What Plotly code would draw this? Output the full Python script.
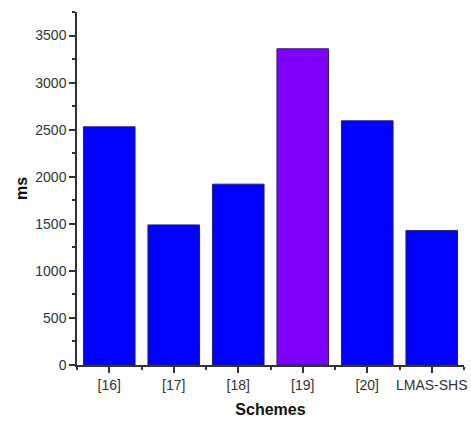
import plotly.graph_objects as go

schemes = ["[16]", "[17]", "[18]", "[19]", "[20]", "LMAS-SHS"]
ms_values = [2530, 1488, 1921, 3359, 2594, 1428]
bar_colors = ["#0000FF", "#0000FF", "#0000FF", "#7F00FF", "#0000FF", "#0000FF"]

positions = list(range(len(schemes)))

fig = go.Figure(go.Bar(
    x=positions, y=ms_values, width=0.8,
    marker=dict(color=bar_colors, line=dict(color="#222266", width=1)),
))

font = "Liberation Sans, Arial, sans-serif"
fig.update_layout(
    width=471, height=421,
    margin=dict(l=77, r=4, t=12, b=56),
    plot_bgcolor="white", paper_bgcolor="white",
    showlegend=False,
    font=dict(family=font, size=14, color="#333333"),
)
fig.update_xaxes(
    range=[-0.5, 5.5], tickvals=positions, ticktext=schemes,
    showline=True, linecolor="#333333", linewidth=1.5,
    ticks="outside", ticklen=6, tickwidth=1.5, tickcolor="#333333",
    minor=dict(dtick=0.5, tick0=-0.5, ticks="outside", ticklen=3, tickcolor="#333333", tickwidth=1.5),
    showgrid=False, zeroline=False,
    title=dict(text="<b>Schemes</b>", font=dict(size=16, color="#111111"), standoff=12),
)
fig.update_yaxes(
    range=[0, 3750], dtick=500, tick0=0,
    showline=True, linecolor="#333333", linewidth=1.5,
    ticks="outside", ticklen=6, tickwidth=1.5, tickcolor="#333333",
    minor=dict(dtick=250, ticks="outside", ticklen=3, tickcolor="#333333", tickwidth=1.5),
    showgrid=False, zeroline=False,
    title=dict(text="<b>ms</b>", font=dict(size=16, color="#111111"), standoff=4),
)

fig.write_html("out.html", config={"displayModeBar": False},
               post_script="document.body.style.margin='0';")
